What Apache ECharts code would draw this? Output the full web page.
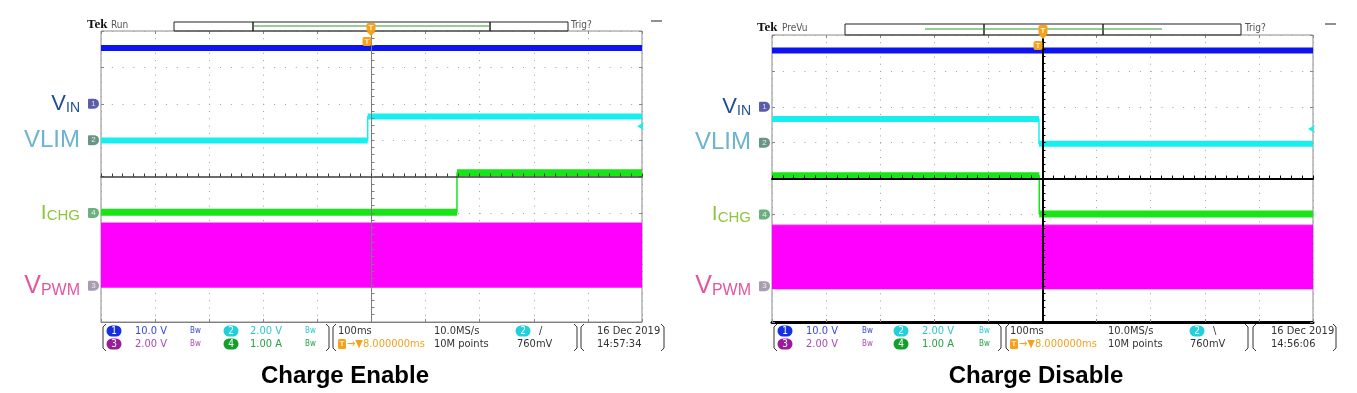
<!DOCTYPE html>
<html><head><meta charset="utf-8">
<script src="https://cdn.jsdelivr.net/npm/echarts@6/dist/echarts.min.js"></script>
<style>html,body{margin:0;padding:0;background:#fff}#c{width:1357px;height:393px}</style>
</head><body><div id="c"></div>
<script>
// ---------- DATA (time in divisions from trigger, amplitude in divisions from screen centre) ----------
const panelTitles = ['Charge Enable', 'Charge Disable'];
const channelRefs = [2, 1, -1, -3];            // ground markers: VIN(1), VLIM(2), ICHG(4), VPWM(3)
const trigLevels = [1.38, 1.38];               // CH2 trigger level (760mV @ 2V/div above ref)
// Charge Enable
const enVinX  = [-5, 5];
const enVinY  = [3.53, 3.53];
const enVlimX = [-5, -0.07, -0.07, 5];
const enVlimY = [0.99, 0.99, 1.65, 1.65];
const enIchgX = [-5, 1.58, 1.58, 5];
const enIchgY = [-0.98, -0.98, 0.10, 0.10];
const enVpwmX = [-5, 5];
const enVpwmHi = [-1.28, -1.28];
const enVpwmLo = [-3.06, -3.06];
// Charge Disable
const disVinX  = [-5, 5];
const disVinY  = [3.57, 3.57];
const disVlimX = [-5, -0.065, -0.065, 5];
const disVlimY = [1.66, 1.66, 0.97, 0.97];
const disIchgX = [-5, -0.06, -0.06, 5];
const disIchgY = [0.08, 0.08, -0.99, -0.99];
const disVpwmX = [-5, 5];
const disVpwmHi = [-1.30, -1.30];
const disVpwmLo = [-3.09, -3.09];
// readout texts
const chScaleRow1 = ['10.0 V', '2.00 V'];
const chScaleRow2 = ['2.00 V', '1.00 A'];
const timebase = ['100ms', '10.0MS/s', '760mV'];
const recordInfo = ['8.000000ms', '10M points'];
const dates = ['16 Dec 2019', '16 Dec 2019'];
const times = ['14:57:34', '14:56:06'];
const runStates = ['Run', 'PreVu'];
const trigSlopes = ['/', '\\'];

// ---------- LAYOUT / STYLE ----------
const F = '"Liberation Sans", Arial, sans-serif';
const N = '"Liberation Sans Narrow", "DejaVu Sans Condensed", "Liberation Sans", sans-serif';
const C = {vin:'#0c14f2', vlim:'#18eeee', ichg:'#18e418', vpwm:'#ff00ff'};
const grids = [{left:101, top:31, width:541, height:291}, {left:772, top:35, width:541, height:287}];
const centreStyle = [{v:'#7c7c7c', vw:1, h:'#3c3c3c', hw:1.5, b:'#808080', bw:1}, {v:'#000', vw:2, h:'#000', hw:2, b:'#000', bw:3}];

const LC = {vin:'#1f4f93', vlim:'#6cb4cf', ichg:'#8cc63e', vpwm:'#e2569f'};
function tok(size, color){ return {fontSize:size, color:color, fontFamily:F, lineHeight:size, verticalAlign:'bottom'}; }
function badge(bg, fg){ return {backgroundColor:bg, color:fg, fontSize:8, fontFamily:F, width:11, height:10, lineHeight:10, align:'center', borderRadius:[1,5,5,1], verticalAlign:'middle'}; }
const labelRich = {
  vin: tok(22, LC.vin), vinS: tok(14, LC.vin),
  vlim: tok(24, LC.vlim),
  ich: tok(21, LC.ichg), ichS: tok(15, LC.ichg),
  vp: tok(25, LC.vpwm), vpS: tok(16, LC.vpwm),
  sp: {width:8},
  b1: badge('#5a5ea8', '#d8d8ff'), b2: badge('#6a9488', '#e0f4ee'),
  b4: badge('#6cb07e', '#e4f8e8'), b3: badge('#a89cb0', '#f0eaf4')
};
const labelStrings = ['{vin|V}{vinS|IN}{sp|}{b1|1}', '{vlim|VLIM}{sp|}{b2|2}', '{ich|I}{ichS|CHG}{sp|}{b4|4}', '{vp|V}{vpS|PWM}{sp|}{b3|3}'];

function pts(xs, ys){ return xs.map((x,i)=>[x, ys[i]]); }
function broken(xs, ys){ const o=[]; xs.forEach((x,i)=>{ if(i>0 && x===xs[i-1]) o.push([x,'-']); o.push([x,ys[i]]); }); return o; }

const xAxes = [], yAxes = [], series = [];
grids.forEach((g, p) => {
  const cs = centreStyle[p];
  const xi = xAxes.length, yi = yAxes.length;
  xAxes.push({gridIndex:p, type:'value', min:-5, max:5, interval:1, z:10,
    axisLine:{show:true, onZero:true, onZeroAxisIndex:yi, lineStyle:{color:cs.h, width:cs.hw}},
    axisTick:{show:true, inside:true, length:3, lineStyle:{color:cs.h}},
    minorTick:{show:true, splitNumber:5, length:3, lineStyle:{color:cs.h}},
    axisLabel:{show:false}, splitLine:{show:false}});
  xAxes.push({gridIndex:p, type:'value', min:-5, max:5, interval:1, position:'bottom',
    axisLine:{show:true, onZero:false, lineStyle:{color:cs.b, width:cs.bw}},
    axisTick:{show:true, inside:true, length:3, lineStyle:{color:'#888'}},
    minorTick:{show:false}, axisLabel:{show:false}, splitLine:{show:false}});
  xAxes.push({gridIndex:p, type:'value', min:-5, max:5, interval:1, position:'top',
    axisLine:{show:false, onZero:false},
    axisTick:{show:true, inside:true, length:3, lineStyle:{color:'#888'}},
    minorTick:{show:false}, axisLabel:{show:false},
    splitLine:{show:true, lineStyle:{color:'#a0a0a0', width:1, type:[1, g.height/40 - 1]}}});
  yAxes.push({gridIndex:p, type:'value', min:-4, max:4, interval:1, z:10,
    axisLine:{show:true, onZero:true, onZeroAxisIndex:xi, lineStyle:{color:cs.v, width:cs.vw}},
    axisTick:{show:true, inside:true, length:3, lineStyle:{color:cs.v}},
    minorTick:{show:true, splitNumber:5, length:3, lineStyle:{color:cs.v}},
    axisLabel:{show:false}, splitLine:{show:false}});
  yAxes.push({gridIndex:p, type:'value', min:-4, max:4, interval:1, position:'left',
    axisLine:{show:false, onZero:false}, axisTick:{show:true, inside:true, length:3, lineStyle:{color:'#888'}},
    splitLine:{show:false},
    axisLabel:{show:true, margin:2, rich:labelRich,
      formatter:(v)=>{ const k = channelRefs.indexOf(Math.round(v)); return k<0 ? '' : labelStrings[k]; }}});
  yAxes.push({gridIndex:p, type:'value', min:-4, max:4, interval:1, position:'right',
    axisLine:{show:false, onZero:false}, axisTick:{show:true, inside:true, length:3, lineStyle:{color:'#888'}},
    axisLabel:{show:false},
    splitLine:{show:true, lineStyle:{color:'#a0a0a0', width:1, type:[1, g.width/50 - 1]}}});

  const d = p===0 ? {vx:enVinX, vy:enVinY, lx:enVlimX, ly:enVlimY, ix:enIchgX, iy:enIchgY, px:enVpwmX, ph:enVpwmHi, pl:enVpwmLo}
                  : {vx:disVinX, vy:disVinY, lx:disVlimX, ly:disVlimY, ix:disIchgX, iy:disIchgY, px:disVpwmX, ph:disVpwmHi, pl:disVpwmLo};
  const base = {type:'line', xAxisIndex:xi, yAxisIndex:yi, symbol:'none', animation:false, silent:true};
  series.push(Object.assign({}, base, {name:'VPWM', data:pts(d.px, d.ph), z:2,
    lineStyle:{color:C.vpwm, width:1}, areaStyle:{color:C.vpwm, opacity:1, origin:d.pl[0]}}));
  series.push(Object.assign({}, base, {name:'VIN', data:broken(d.vx, d.vy), z:3, lineStyle:{color:C.vin, width:6}}));
  series.push(Object.assign({}, base, {name:'VLIM', data:broken(d.lx, d.ly), z:3, lineStyle:{color:C.vlim, width:6},
    markPoint:{silent:true, animation:false, label:{show:false},
      data:[{coord:[5, trigLevels[p]], symbol:'arrow', symbolRotate:90, symbolSize:[6,7], symbolOffset:[-5,0], itemStyle:{color:C.vlim}}]}}));
  series.push(Object.assign({}, base, {name:'VLIM edge', data:pts(d.lx, d.ly), z:3, lineStyle:{color:C.vlim, width:1.5}}));
  series.push(Object.assign({}, base, {name:'ICHG', data:broken(d.ix, d.iy), z:3, lineStyle:{color:C.ichg, width:7}}));
  series.push(Object.assign({}, base, {name:'ICHG edge', data:pts(d.ix, d.iy), z:3, lineStyle:{color:C.ichg, width:1.5}}));
});

// ---------- decorations (scope frame chrome) ----------
const OR = '#f5a11c';
const G = [];
function text(x, y, s, fill, font, align){ G.push({type:'text', x:x, y:y, z:20, style:{text:s, fill:fill, font:font, align:align||'left', verticalAlign:'middle'}}); }
function rect(x, y, w, h, stroke, fill, r, lw){ G.push({type:'rect', z:20, shape:{x:x, y:y, width:w, height:h, r:r||0}, style:{stroke:stroke||null, fill:fill||null, lineWidth:lw||1}}); }
function line(x1, y1, x2, y2, stroke, lw){ G.push({type:'line', z:20, shape:{x1:x1, y1:y1, x2:x2, y2:y2}, style:{stroke:stroke, lineWidth:lw||1}}); }
function pill(cx, cy, s, bg){ rect(cx-7.5, cy-5.5, 15, 11, null, bg, 5.5); text(cx, cy+0.5, s, '#fff', '10px '+N, 'center'); }
function tmark(x, y, h){ rect(x-4.5, y, 9, h, null, OR, 2); text(x, y+h/2+0.5, 'T', '#fff3d0', 'bold 8px '+F, 'center'); }
function bracket(x1, x2, y1, y2){
  G.push({type:'polyline', z:20, shape:{points:[[x1+4,y1],[x1+1,y1+3],[x1+1,y2-3],[x1+4,y2]]}, style:{stroke:'#333', fill:null, lineWidth:1}});
  G.push({type:'polyline', z:20, shape:{points:[[x2-4,y1],[x2-1,y1+3],[x2-1,y2-3],[x2-4,y2]]}, style:{stroke:'#333', fill:null, lineWidth:1}});
}
const topBars = [
  {tek:87, tekY:25, run:111, bar:[174,568], barY:[22,31], div:[253,490], green:[253,490], greenY:26, trig:571, dash:[651,662,21], m1:[371,23,9], m2:[367,37,9]},
  {tek:757, tekY:28, run:782, bar:[845,1241], barY:[24,35], div:[984,1103], green:[925,1162], greenY:29, trig:1245, dash:[1325,1336,24], m1:[1043,25,10], m2:[1038,41,9]}
];
const infoRows = [
  {boxes:[[102,330],[332,578],[580,665]], c1:114, t1:135, bw1:190, c2:231, t2:250, bw2:305, tb:338, sr:434, tc:523, sl:539, lv:517, dt:597},
  {boxes:[[773,1002],[1005,1249],[1252,1337]], c1:785, t1:806, bw1:862, c2:901, t2:922, bw2:979, tb:1010, sr:1108, tc:1197, sl:1213, lv:1190, dt:1271}
];
const titleX = [345, 1036];
topBars.forEach((t, p) => {
  text(t.tek, t.tekY, 'Tek', '#111', 'bold 13px "Liberation Serif", serif');
  text(t.run, t.tekY, runStates[p], '#555', '10px '+N);
  rect(t.bar[0], t.barY[0], t.bar[1]-t.bar[0], t.barY[1]-t.barY[0], '#222', null);
  line(t.div[0], t.barY[0], t.div[0], t.barY[1], '#222', 1.5);
  line(t.div[1], t.barY[0], t.div[1], t.barY[1], '#222', 1.5);
  line(t.green[0], t.greenY, t.green[1], t.greenY, '#2f9a2f', 1.2);
  text(t.trig, t.tekY, 'Trig?', '#555', '10px '+N);
  line(t.dash[0], t.dash[2], t.dash[1], t.dash[2], '#222', 1);
  G.push({type:'polygon', z:20, shape:{points:[[t.m1[0]-4,t.m1[1]+t.m1[2]],[t.m1[0]+4,t.m1[1]+t.m1[2]],[t.m1[0],t.m1[1]+t.m1[2]+4]]}, style:{fill:OR}});
  tmark(t.m1[0], t.m1[1], t.m1[2]);
  tmark(t.m2[0], t.m2[1], t.m2[2]);
});
infoRows.forEach((q, p) => {
  const y1 = 331, y2 = 344;
  q.boxes.forEach(b => bracket(b[0], b[1], 324, 351));
  pill(q.c1, y1, '1', '#1530e0'); pill(q.c2, y1, '2', '#20d0da');
  pill(q.c1, y2, '3', '#9a1c9c'); pill(q.c2, y2, '4', '#12a02a');
  const f = '11px '+N, fb = '8px '+N;
  text(q.t1, y1, chScaleRow1[0], '#3a48d8', f); text(q.bw1, y1, 'Bw', '#3a48d8', fb);
  text(q.t2, y1, chScaleRow1[1], '#2ec6d0', f); text(q.bw2, y1, 'Bw', '#2ec6d0', fb);
  text(q.t1, y2, chScaleRow2[0], '#a84ab8', f); text(q.bw1, y2, 'Bw', '#a84ab8', fb);
  text(q.t2, y2, chScaleRow2[1], '#26a046', f); text(q.bw2, y2, 'Bw', '#26a046', fb);
  text(q.tb, y1, timebase[0], '#333', f);
  text(q.sr, y1, timebase[1], '#333', f);
  pill(q.tc, y1, '2', '#20d0da');
  text(q.sl, y1, trigSlopes[p], '#333', f);
  rect(q.tb, y2-5, 8, 10, null, OR, 1.5); text(q.tb+4, y2, 'T', '#fff3d0', 'bold 8px '+F, 'center');
  text(q.tb+9, y2, '\u2192\u25BC' + recordInfo[0], OR, f);
  text(q.sr, y2, recordInfo[1], '#333', f);
  text(q.lv, y2, timebase[2], '#333', f);
  text(q.dt, y1, dates[p], '#333', f);
  text(q.dt, y2, times[p], '#333', f);
  text(titleX[p], 376, panelTitles[p], '#000', 'bold 24px '+F, 'center');
});

const chart = echarts.init(document.getElementById('c'));
chart.setOption({
  animation:false,
  backgroundColor:'#fff',
  grid: grids.map(g => Object.assign({show:true, borderColor:'#8a8a8a', borderWidth:1, backgroundColor:'transparent', containLabel:false}, g)),
  xAxis: xAxes, yAxis: yAxes, series: series, graphic: G
});
</script></body></html>
